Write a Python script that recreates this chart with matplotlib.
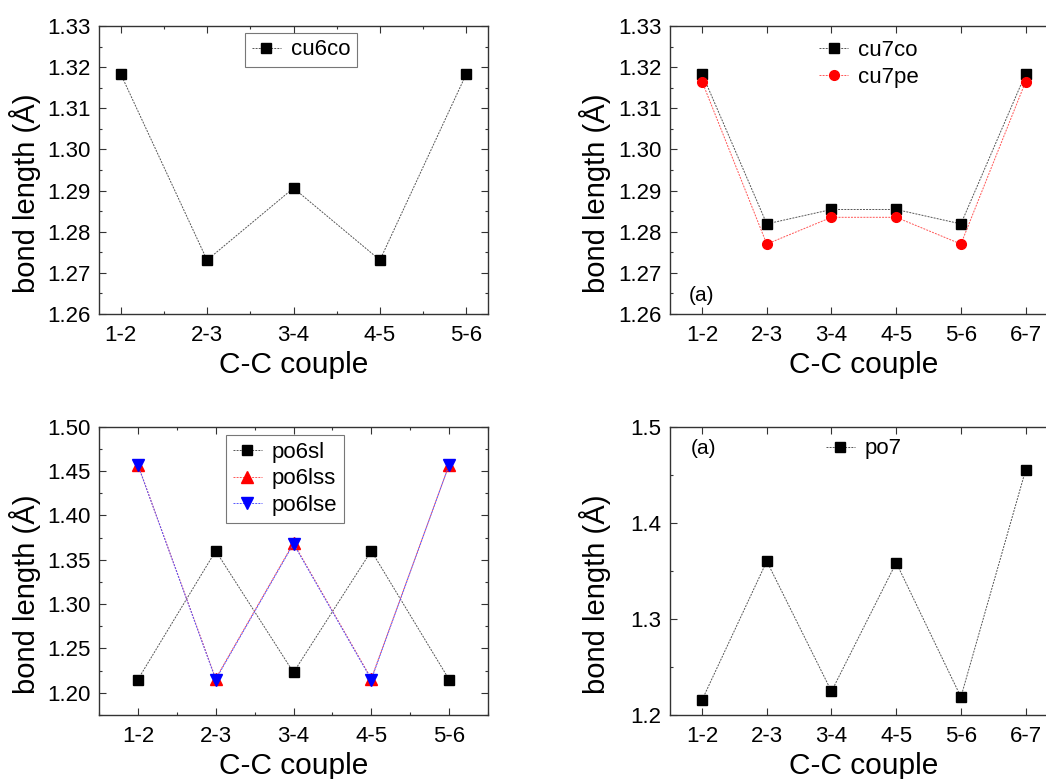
import numpy as np
import matplotlib.pyplot as plt
from matplotlib.ticker import MultipleLocator

plt.rcParams['font.family'] = ['Liberation Sans', 'DejaVu Sans']

# data
pairs6 = ['1-2', '2-3', '3-4', '4-5', '5-6']
pairs7 = ['1-2', '2-3', '3-4', '4-5', '5-6', '6-7']

cu6co = [1.3184, 1.2731, 1.2906, 1.2731, 1.3184]
cu7co = [1.3184, 1.2819, 1.2854, 1.2854, 1.2819, 1.3184]
cu7pe = [1.3165, 1.2770, 1.2835, 1.2835, 1.2770, 1.3165]
po6sl = [1.215, 1.360, 1.223, 1.360, 1.215]
po6lss = [1.457, 1.216, 1.369, 1.216, 1.457]
po6lse = [1.457, 1.215, 1.368, 1.215, 1.457]
po7 = [1.2156, 1.360, 1.2246, 1.3585, 1.2187, 1.455]

W, H = 1046, 779
fig = plt.figure(figsize=(W / 100, H / 100), dpi=100)


def make_ax(left, top, right, bottom):
    return fig.add_axes([left / W, 1 - bottom / H, (right - left) / W, (bottom - top) / H])


ax1 = make_ax(99, 26, 488, 314)
ax2 = make_ax(669.7, 26, 1058, 314)
ax3 = make_ax(99, 426.7, 488, 715)
ax4 = make_ax(669.7, 426.7, 1058, 715)

ls = (0, (2, 1.2))
lw = 0.7

x6 = np.arange(1, len(pairs6) + 1)
x7 = np.arange(1, len(pairs7) + 1)

ax1.plot(x6, cu6co, ls=ls, lw=lw, color='#555555', marker='s', ms=6.5,
         mfc='black', mec='black', label='cu6co')

ax2.plot(x7, cu7co, ls=ls, lw=lw, color='#555555', marker='s', ms=6.5,
         mfc='black', mec='black', label='cu7co')
ax2.plot(x7, cu7pe, ls=ls, lw=lw, color='#ff5555', marker='o', ms=7,
         mfc='red', mec='red', label='cu7pe')

ax3.plot(x6, po6sl, ls=ls, lw=lw, color='#555555', marker='s', ms=6.5,
         mfc='black', mec='black', label='po6sl')
ax3.plot(x6, po6lss, ls=ls, lw=lw, color='#ff5555', marker='^', ms=8,
         mfc='red', mec='red', label='po6lss')
ax3.plot(x6, po6lse, ls=ls, lw=lw, color='#5555ff', marker='v', ms=8,
         mfc='blue', mec='blue', label='po6lse')

ax4.plot(x7, po7, ls=ls, lw=lw, color='#555555', marker='s', ms=6.5,
         mfc='black', mec='black', label='po7')

setups = [
    (ax1, pairs6, (0.75, 5.25), (1.26, 1.33), 0.01, 0.005, True, '%.2f'),
    (ax2, pairs7, (0.5, 6.5), (1.26, 1.33), 0.01, 0.005, False, '%.2f'),
    (ax3, pairs6, (0.5, 5.5), (1.175, 1.50), 0.05, 0.025, True, '%.2f'),
    (ax4, pairs7, (0.5, 6.5), (1.2, 1.5), 0.1, 0.05, False, '%.1f'),
]
for ax, labels, xl, yl, ymaj, ymin, xminor, fmt in setups:
    ax.set_xlim(*xl)
    ax.set_ylim(*yl)
    ax.set_xticks(np.arange(1, len(labels) + 1))
    ax.set_xticklabels(labels)
    if xminor:
        ax.xaxis.set_minor_locator(MultipleLocator(0.5))
    ax.yaxis.set_major_locator(MultipleLocator(ymaj))
    ax.yaxis.set_minor_locator(MultipleLocator(ymin))
    ax.yaxis.set_major_formatter(plt.FormatStrFormatter(fmt))
    ax.tick_params(which='both', direction='in', top=True, right=True,
                   labelsize=16, width=0.8, color='#333333')
    ax.tick_params(which='major', length=5)
    ax.tick_params(axis='x', which='major', pad=8)
    ax.tick_params(axis='y', which='major', pad=6)
    ax.tick_params(which='minor', length=2.5)
    for sp in ax.spines.values():
        sp.set_linewidth(1.0)
        sp.set_color('#333333')
    ax.set_xlabel('C-C couple', fontsize=21.5)
    ax.set_ylabel('bond length (Å)', fontsize=21)
    ax.xaxis.set_label_coords(0.5, -0.13)
    ax.yaxis.set_label_coords(-0.15, 0.42)

leg_kw = dict(fontsize=16, handlelength=1.3, handletextpad=0.45,
              labelspacing=0.25, borderpad=0.3, fancybox=False)

l1 = ax1.legend(loc='center', bbox_to_anchor=(0.519, 0.917), frameon=True, **leg_kw)
l1.get_frame().set_edgecolor('#555555')
l1.get_frame().set_linewidth(0.8)

ax2.legend(loc='center', bbox_to_anchor=(0.514, 0.868), frameon=False, **leg_kw)

l3 = ax3.legend(loc='center', bbox_to_anchor=(0.478, 0.819), frameon=True, **leg_kw)
l3.get_frame().set_edgecolor('#555555')
l3.get_frame().set_linewidth(0.8)

ax4.legend(loc='center', bbox_to_anchor=(0.4995, 0.923), frameon=False, **leg_kw)

ax2.text(0.05, 0.065, '(a)', transform=ax2.transAxes, fontsize=15, va='center')
ax4.text(0.055, 0.923, '(a)', transform=ax4.transAxes, fontsize=15, va='center')

fig.savefig('out.png', dpi=100)
